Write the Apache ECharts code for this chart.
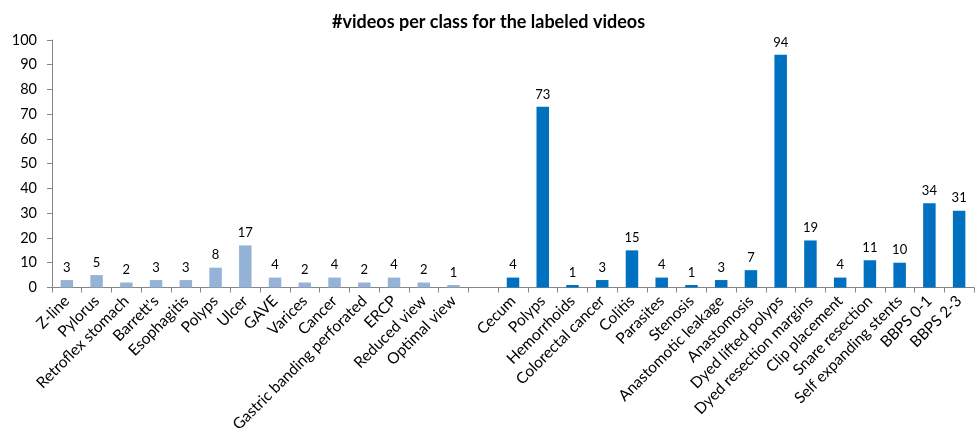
<!DOCTYPE html>
<html>
<head>
<meta charset="utf-8">
<script src="https://cdn.jsdelivr.net/npm/echarts@6/dist/echarts.min.js"></script>
<style>
  html, body { margin: 0; padding: 0; background: #fff; }
  #chart { width: 977px; height: 435px; }
</style>
</head>
<body>
<div id="chart"></div>
<script>
// Upper GI classes (light bars) and lower GI classes (dark bars)
const upperClasses = ['Z-line', 'Pylorus', 'Retroflex stomach', "Barrett's", 'Esophagitis', 'Polyps', 'Ulcer',
  'GAVE', 'Varices', 'Cancer', 'Gastric banding perforated', 'ERCP', 'Reduced view', 'Optimal view'];
const upperCounts = [3, 5, 2, 3, 3, 8, 17, 4, 2, 4, 2, 4, 2, 1];

const lowerClasses = ['Cecum', 'Polyps', 'Hemorrhoids', 'Colorectal cancer', 'Colitis', 'Parasites', 'Stenosis',
  'Anastomotic leakage', 'Anastomosis', 'Dyed lifted polyps', 'Dyed resection margins', 'Clip placement',
  'Snare resection', 'Self expanding stents', 'BBPS 0-1', 'BBPS 2-3'];
const lowerCounts = [4, 73, 1, 3, 15, 4, 1, 3, 7, 94, 19, 4, 11, 10, 34, 31];

const yTicks = { min: 0, max: 100, interval: 10 };

// one empty slot separates the two groups on the shared axis
const categories = upperClasses.concat([''], lowerClasses);
const upperSeries = upperCounts.concat(new Array(1 + lowerCounts.length).fill(null));
const lowerSeries = new Array(upperCounts.length + 1).fill(null).concat(lowerCounts);

const font = 'Lato, "Open Sans", sans-serif';
const axisGray = '#868686';

const chart = echarts.init(document.getElementById('chart'), null, { renderer: 'canvas' });
const label = { show: true, position: 'top', distance: 6, color: '#000', fontSize: 13, fontFamily: font };

chart.setOption({
  animation: false,
  backgroundColor: '#fff',
  title: {
    text: '#videos per class for the labeled videos',
    left: 'center',
    top: 8,
    textStyle: { fontSize: 18, fontWeight: 'bold', color: '#000', fontFamily: font }
  },
  grid: { left: 52, right: 3, top: 40, bottom: 146, containLabel: false },
  xAxis: {
    type: 'category',
    data: categories,
    boundaryGap: true,
    axisLine: { lineStyle: { color: axisGray } },
    axisTick: { show: true, length: 5, lineStyle: { color: axisGray } },
    axisLabel: {
      rotate: 45, interval: 0, margin: 11, color: '#000', fontSize: 15.5, fontFamily: font
    },
    splitLine: { show: false }
  },
  yAxis: {
    type: 'value',
    min: yTicks.min, max: yTicks.max, interval: yTicks.interval,
    axisLine: { show: true, lineStyle: { color: axisGray } },
    axisTick: { show: true, length: 5, lineStyle: { color: axisGray } },
    axisLabel: { color: '#000', fontSize: 14.5, fontFamily: font, margin: 15 },
    splitLine: { show: false }
  },
  series: [
    {
      name: 'upper', type: 'bar', stack: 'all', data: upperSeries, barWidth: '42%',
      itemStyle: { color: '#95B3D7' }, label: label
    },
    {
      name: 'lower', type: 'bar', stack: 'all', data: lowerSeries, barWidth: '42%',
      itemStyle: { color: '#0070C0' }, label: label
    }
  ]
});
</script>
</body>
</html>
